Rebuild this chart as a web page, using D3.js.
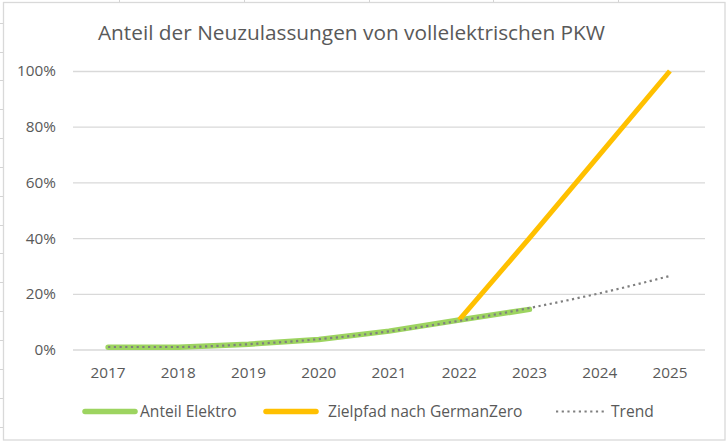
<!DOCTYPE html>
<html><head><meta charset="utf-8">
<script src="https://cdn.jsdelivr.net/npm/d3@7"></script>
<style>html,body{margin:0;padding:0;background:#fff;}svg{display:block;}</style>
</head><body>
<svg id="c" width="727" height="442"></svg>
<script>
const years = ["2017","2018","2019","2020","2021","2022","2023","2024","2025"];
const anteilElektro = [0.8, 0.8, 1.9, 3.6, 6.6, 10.6, 14.4];
const zielpfadYears = ["2022","2023","2024","2025"];
const zielpfad = [10.6, 40, 70, 100];
const trend = [0.9, 0.9, 1.9, 3.7, 6.5, 10.3, 14.9, 20.2, 26.4];
const yTicks = [0, 20, 40, 60, 80, 100];
const title = "Anteil der Neuzulassungen von vollelektrischen PKW";
const legendLabels = ["Anteil Elektro", "Zielpfad nach GermanZero", "Trend"];

const svg = d3.select("#c");
const FONT = "'Open Sans', 'Noto Sans', sans-serif";
const TXT = "#595959";

// spreadsheet background gridlines outside chart border
const bg = svg.append("g").attr("stroke", "#d4d4d4").attr("stroke-width", 1);
for (let y = 22.7; y < 442; y += 28.85) bg.append("line").attr("x1", 0).attr("x2", 3).attr("y1", Math.round(y)+0.5).attr("y2", Math.round(y)+0.5);
for (let x = 119; x < 727; x += 124.75) bg.append("line").attr("x1", Math.round(x)+0.5).attr("x2", Math.round(x)+0.5).attr("y1", 0).attr("y2", 2);

// chart border
svg.append("rect").attr("x", 3.5).attr("y", 2.5).attr("width", 721.5).attr("height", 437.5)
  .attr("fill", "#fff").attr("stroke", "#d9d9d9").attr("stroke-width", 1.3);

const x = d3.scaleBand().domain(years).range([73, 705]);
const y = d3.scaleLinear().domain([0, 100]).range([349.5, 71]);
const cx = d => x(d) + x.bandwidth() / 2;

// gridlines
const yAxis = d3.axisLeft(y).tickValues(yTicks).tickSize(-(705 - 73)).tickFormat(d => d + "%").tickPadding(17);
const gy = svg.append("g").attr("transform", "translate(73,0)").call(yAxis);
gy.select(".domain").remove();
gy.selectAll(".tick line").attr("stroke", "#d9d9d9").attr("stroke-width", 1.3);
gy.selectAll(".tick text").attr("fill", TXT).attr("font-family", FONT).attr("font-size", 15.3);

const xAxis = d3.axisBottom(x).tickSize(0).tickPadding(18);
const gx = svg.append("g").attr("transform", "translate(0,349.5)").call(xAxis);
gx.select(".domain").remove();
gx.selectAll(".tick text").attr("fill", TXT).attr("font-family", FONT).attr("font-size", 15.3);

const line = d3.line().x(d => cx(d[0])).y(d => y(d[1]));
const smooth = d3.line().curve(d3.curveMonotoneX).x(d => cx(d[0])).y(d => y(d[1]));

const GREEN = "#9dd460", YELLOW = "#ffc000", GRAY = "#7f7f7f";

svg.append("path").datum(anteilElektro.map((v, i) => [years[i], v]))
  .attr("d", line).attr("fill", "none").attr("stroke", GREEN).attr("stroke-width", 5.5)
  .attr("stroke-linecap", "round").attr("stroke-linejoin", "round");
svg.append("path").datum(zielpfad.map((v, i) => [zielpfadYears[i], v]))
  .attr("d", line).attr("fill", "none").attr("stroke", YELLOW).attr("stroke-width", 5)
  .attr("stroke-linejoin", "round");
svg.append("path").datum(trend.map((v, i) => [years[i], v]))
  .attr("d", smooth).attr("fill", "none").attr("stroke", GRAY).attr("stroke-width", 2.2)
  .attr("stroke-dasharray", "2.2 3.5");

// title
svg.append("text").attr("x", 351.5).attr("y", 40).attr("text-anchor", "middle")
  .attr("fill", TXT).attr("font-family", FONT).attr("font-size", 20.8).text(title);

// legend
const ly = 411.5;
const leg = svg.append("g").attr("font-family", FONT).attr("font-size", 15.6).attr("fill", TXT);
leg.append("line").attr("x1", 85).attr("x2", 135).attr("y1", ly).attr("y2", ly)
  .attr("stroke", GREEN).attr("stroke-width", 5.5).attr("stroke-linecap", "round");
leg.append("text").attr("x", 140).attr("y", ly).attr("dy", "0.35em").text(legendLabels[0]);
leg.append("line").attr("x1", 266).attr("x2", 316).attr("y1", ly).attr("y2", ly)
  .attr("stroke", YELLOW).attr("stroke-width", 5.5).attr("stroke-linecap", "round");
leg.append("text").attr("x", 328).attr("y", ly).attr("dy", "0.35em").text(legendLabels[1]);
leg.append("line").attr("x1", 556).attr("x2", 606).attr("y1", ly).attr("y2", ly)
  .attr("stroke", GRAY).attr("stroke-width", 2.2).attr("stroke-dasharray", "2.2 3.5");
leg.append("text").attr("x", 611).attr("y", ly).attr("dy", "0.35em").text(legendLabels[2]);
</script>
</body></html>
